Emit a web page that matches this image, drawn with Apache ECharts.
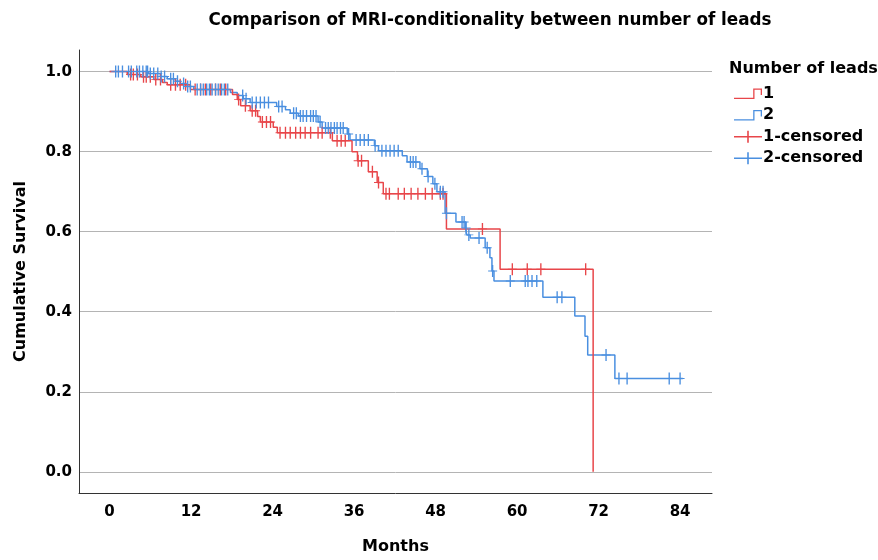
<!DOCTYPE html>
<html>
<head>
<meta charset="utf-8">
<script src="https://cdn.jsdelivr.net/npm/echarts@6/dist/echarts.min.js"></script>
<style>html,body{margin:0;padding:0;background:#fff}#chart{width:878px;height:560px}</style>
</head>
<body>
<div id="chart"></div>
<script>
// ---- data ----
const xTicks = [0, 12, 24, 36, 48, 60, 72, 84];
const yTicks = [0, 0.2, 0.4, 0.6, 0.8, 1.0];

// Group 1 (red): step times (months) and survival from that time on
const g1Times = [0, 2.6, 4.6, 6.5, 7.8, 8.5, 11.9, 18.1, 18.8, 19.3, 20.7, 21.8, 22.2, 24.1, 24.7, 32.8, 35.7, 36.5, 38.1, 39.4, 40.3, 49.6, 57.5, 71.2];
const g1Surv  = [1.0, 0.993, 0.987, 0.98, 0.973, 0.967, 0.955, 0.943, 0.93, 0.915, 0.902, 0.888, 0.874, 0.861, 0.847, 0.827, 0.80, 0.777, 0.75, 0.723, 0.695, 0.607, 0.506, 0.0];
const g1End = 71.2;
const g1Censored = [3.1, 3.5, 4.1, 5.0, 5.4, 6.0, 6.8, 7.5, 9.0, 9.7, 10.4, 11.2, 12.6, 13.4, 14.1, 14.9, 15.6, 16.3, 17.1, 19.0, 20.0, 21.0, 21.5, 22.5, 23.1, 23.7, 25.1, 25.9, 26.6, 27.4, 28.1, 28.8, 29.6, 30.7, 31.3, 32.5, 33.5, 34.1, 34.7, 36.6, 37.1, 38.7, 39.6, 40.7, 41.2, 42.5, 43.4, 44.4, 45.4, 46.5, 47.5, 48.7, 49.1, 54.9, 59.3, 61.5, 63.5, 70.1];

// Group 2 (blue)
const g2Times = [0, 5.7, 7.5, 8.5, 9.7, 10.4, 11.2, 12.4, 17.8, 18.8, 19.7, 20.7, 24.6, 25.9, 26.6, 27.8, 30.7, 31.3, 35.0, 35.4, 39.0, 39.6, 43.1, 43.8, 45.7, 46.8, 47.6, 48.2, 49.4, 51.0, 52.4, 52.6, 53.1, 55.3, 56.0, 56.3, 56.6, 63.8, 68.5, 70.0, 70.4, 74.4];
const g2Surv  = [1.0, 0.995, 0.988, 0.982, 0.976, 0.97, 0.963, 0.955, 0.948, 0.94, 0.932, 0.923, 0.913, 0.905, 0.896, 0.889, 0.874, 0.859, 0.844, 0.829, 0.815, 0.802, 0.79, 0.774, 0.757, 0.738, 0.72, 0.70, 0.646, 0.624, 0.609, 0.592, 0.584, 0.56, 0.535, 0.502, 0.477, 0.436, 0.389, 0.339, 0.292, 0.233];
const g2End = 84.4;
const g2Censored = [0.9, 1.3, 1.9, 2.8, 3.2, 4.0, 4.4, 4.9, 5.4, 5.6, 6.0, 6.5, 7.1, 7.6, 8.1, 9.0, 9.4, 10.0, 10.9, 11.5, 11.9, 12.9, 13.4, 13.8, 14.3, 14.7, 15.1, 15.6, 16.0, 16.5, 16.9, 17.4, 19.6, 20.1, 21.0, 21.6, 22.2, 22.8, 23.4, 24.9, 25.4, 27.1, 27.5, 28.1, 28.5, 29.0, 29.6, 30.0, 30.4, 31.0, 31.8, 32.2, 32.6, 33.1, 33.5, 34.0, 34.4, 35.2, 36.3, 36.9, 37.5, 38.1, 39.1, 40.1, 40.7, 41.3, 41.9, 42.5, 44.3, 44.7, 45.1, 46.0, 46.9, 47.9, 48.7, 49.1, 49.6, 51.9, 52.2, 52.5, 52.9, 54.4, 55.6, 56.4, 59.0, 61.2, 61.6, 62.2, 62.9, 65.9, 66.6, 73.1, 75.0, 76.2, 82.4, 84.0];

// ---- helpers ----
function stepData(times, surv, end) {
  const d = times.map((t, i) => [t, surv[i]]);
  if (end > times[times.length - 1]) d.push([end, surv[surv.length - 1]]);
  return d;
}
function survAt(times, surv, t) {
  let v = surv[0];
  for (let i = 0; i < times.length; i++) { if (times[i] <= t) v = surv[i]; }
  return v;
}
function censorData(times, surv, cens) {
  return cens.map(t => [t, survAt(times, surv, t)]);
}

const RED = '#e8464a';
const BLUE = '#4a8fe0';
const FONT = '"DejaVu Sans", Verdana, sans-serif';
const markPath = 'path://M0,9.2H8.5V0H11.5V9.2H20V10.8H11.5V20H8.5V10.8H0Z';
const stepIcon = 'path://M0,10.4H19.2V1H28V7.5H26.7V2.3H20.5V11.7H0Z';
const legendPlus = 'path://M0,5.3H13.2V0H14.8V5.3H28V6.7H14.8V12H13.2V6.7H0Z';

const chart = echarts.init(document.getElementById('chart'), null, { renderer: 'canvas' });
chart.setOption({
  animation: false,
  backgroundColor: '#fff',
  textStyle: { fontFamily: FONT },
  title: [
    { text: 'Comparison of MRI-conditionality between number of leads', left: 485, textAlign: 'center', top: 7,
      textStyle: { fontFamily: FONT, fontSize: 16.8, fontWeight: 'bold', color: '#000' } },
    { text: 'Number of leads', left: 724, top: 56,
      textStyle: { fontFamily: FONT, fontSize: 16, fontWeight: 'bold', color: '#000' } }
  ],
  legend: {
    orient: 'vertical', left: 729, top: 79,
    itemWidth: 28, itemHeight: 12, itemGap: 2,
    textStyle: { fontFamily: FONT, fontSize: 16, fontWeight: 'bold', color: '#000', lineHeight: 19.5, padding: [0, 0, 0, -4] },
    itemStyle: { borderWidth: 0 },
    data: [
      { name: '1', icon: stepIcon },
      { name: '2', icon: stepIcon },
      { name: '1-censored', icon: legendPlus },
      { name: '2-censored', icon: legendPlus }
    ]
  },
  grid: { left: 79, right: 166, top: 50, bottom: 63, containLabel: false },
  xAxis: {
    type: 'value', min: -4.5, max: 88.7,
    name: 'Months', nameLocation: 'middle', nameGap: 46,
    nameTextStyle: { fontFamily: FONT, fontSize: 16, fontWeight: 'bold', color: '#000' },
    axisLine: { show: true, onZero: false, lineStyle: { color: '#333', width: 1 } },
    axisTick: { show: false, customValues: xTicks },
    axisLabel: { customValues: xTicks, margin: 12, fontFamily: FONT, fontSize: 15, fontWeight: 'bold', color: '#000' },
    splitLine: { show: false }
  },
  yAxis: {
    type: 'value', min: -0.053, max: 1.054,
    name: 'Cumulative Survival', nameLocation: 'middle', nameGap: 50,
    nameTextStyle: { fontFamily: FONT, fontSize: 16, fontWeight: 'bold', color: '#000' },
    axisLine: { show: true, onZero: false, lineStyle: { color: '#333', width: 1 } },
    axisTick: { show: false, customValues: yTicks },
    axisLabel: { customValues: yTicks, margin: 7, fontFamily: FONT, fontSize: 15, fontWeight: 'bold', color: '#000',
      formatter: v => v.toFixed(1) },
    splitLine: { show: true, lineStyle: { color: '#b4b4b4', width: 1 } }
  },
  series: [
    { name: '2', type: 'line', step: 'end', showSymbol: false, symbol: 'none', z: 2,
      data: stepData(g2Times, g2Surv, g2End),
      itemStyle: { color: BLUE }, lineStyle: { color: BLUE, width: 1.5 } },
    { name: '1', type: 'line', step: 'end', showSymbol: false, symbol: 'none', z: 3,
      data: stepData(g1Times, g1Surv, g1End),
      itemStyle: { color: RED }, lineStyle: { color: RED, width: 1.5 } },
    { name: '1-censored', type: 'scatter', symbol: markPath, symbolSize: [9, 12], z: 4,
      data: censorData(g1Times, g1Surv, g1Censored),
      itemStyle: { color: RED, opacity: 1 } },
    { name: '2-censored', type: 'scatter', symbol: markPath, symbolSize: [9, 12], z: 5,
      data: censorData(g2Times, g2Surv, g2Censored),
      itemStyle: { color: BLUE, opacity: 1 } }
  ]
});
</script>
</body>
</html>
